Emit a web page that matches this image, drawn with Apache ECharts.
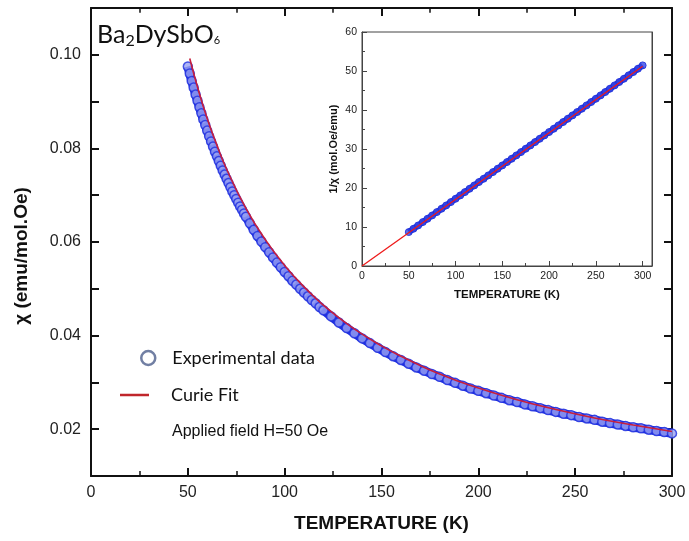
<!DOCTYPE html>
<html>
<head>
<meta charset="utf-8">
<script src="https://cdn.jsdelivr.net/npm/echarts@6/dist/echarts.min.js"></script>
<style>
html,body{margin:0;padding:0;background:#fff;}
#chart{width:689px;height:541px;}
</style>
</head>
<body>
<div id="chart"></div>
<script>
// ---- Main plot: chi vs T (experimental) ----
var expT = [50,51,52,53,54,55,56,57,58,59,60,61,62,63,64,65,66,67,68,69,70,71,72,73,74,75,76,77,78,79,80,
  82,84,86,88,90,92,94,96,98,100,102,104,106,108,110,112,114,116,118,120,
  124,128,132,136,140,144,148,152,156,160,164,168,172,176,180,184,188,192,196,200,204,208,212,216,220,
  224,228,232,236,240,244,248,252,256,260,264,268,272,276,280,284,288,292,296,300];
var expChi = [0.0975,0.0960,0.0944,0.0930,0.0915,0.0902,0.0888,0.0875,0.0862,0.0850,0.0838,0.0826,0.0815,0.0804,0.0793,0.0783,0.0773,0.0763,0.0753,0.0744,0.0735,0.0726,0.0717,0.0708,0.0700,0.0692,0.0684,0.0676,0.0669,0.0661,0.0654,
  0.0640,0.0626,0.0613,0.0601,0.0589,0.0578,0.0567,0.0556,0.0546,0.0536,0.0527,0.0517,0.0509,0.0500,0.0492,0.0484,0.0476,0.0469,0.0461,0.0454,
  0.0441,0.0428,0.0416,0.0405,0.0394,0.0384,0.0374,0.0365,0.0356,0.0348,0.0340,0.0332,0.0325,0.0318,0.0312,0.0305,0.0299,0.0293,0.0287,0.0282,0.0277,0.0272,0.0267,0.0262,0.0258,
  0.0253,0.0249,0.0245,0.0241,0.0237,0.0233,0.0230,0.0226,0.0223,0.0220,0.0216,0.0213,0.0210,0.0207,0.0204,0.0202,0.0199,0.0196,0.0194,0.0191];
// ---- Main plot: Curie fit ----
var fitT = [51,55,60,65,70,80,90,100,110,120,130,140,150,160,170,180,190,200,220,240,260,280,300];
var fitChi = [0.0992,0.0931,0.0864,0.0807,0.0756,0.0672,0.0605,0.0550,0.0504,0.0465,0.0432,0.0403,0.0378,0.0356,0.0336,0.0318,0.0302,0.0288,0.0263,0.0242,0.0224,0.0209,0.0195];
// ---- Inset: 1/chi vs T ----
var invT = [50,55,60,65,70,75,80,85,90,95,100,105,110,115,120,125,130,135,140,145,150,155,160,165,170,175,180,185,190,195,200,
  205,210,215,220,225,230,235,240,245,250,255,260,265,270,275,280,285,290,295,300];
var invChi = [8.7,9.55,10.4,11.26,12.11,12.97,13.82,14.68,15.53,16.39,17.24,18.1,18.95,19.81,20.66,21.52,22.37,23.23,24.08,24.94,25.79,26.65,27.5,28.36,29.21,30.07,30.92,31.78,32.63,33.49,34.34,
  35.2,36.05,36.91,37.76,38.62,39.47,40.33,41.18,42.04,42.89,43.75,44.6,45.46,46.31,47.17,48.02,48.88,49.73,50.59,51.44];
var invFitT = [0, 300];
var invFitVal = [0, 51.2];

var mainXTicks = [0,50,100,150,200,250,300];
var mainYTicks = [0.02,0.04,0.06,0.08,0.10];

function pairs(a,b){ return a.map(function(v,i){ return [v,b[i]]; }); }

var chart = echarts.init(document.getElementById('chart'));
var blue = '#1f30e0';
var red = '#c81f3c';
var axisFont = 'Liberation Sans, Arial, sans-serif';
var humanFont = 'Lato, "Noto Sans", sans-serif';

function frameAxis(isX, gi, pos, min, max, interval, minor, len, main){
  var a = {gridIndex: gi, type:'value', position: pos, min:min, max:max, interval:interval,
    axisLine:{show:true, onZero:false, lineStyle:{color: main?'#111':'#444', width: main?2:1}},
    axisTick:{show:true, inside:true, length:len, lineStyle:{color: main?'#111':'#444', width: main?2:1}},
    minorTick:{show:minor>0, splitNumber:minor||1, length:len*0.6, lineStyle:{color: main?'#111':'#444', width: main?1.5:1}},
    axisLabel:{show:false}, splitLine:{show:false}};
  return a;
}

var option = {
  backgroundColor:'#fff',
  animation:false,
  title:{
    text:'Ba{a|2}DySbO{b|6}',
    left: 97, top: 21,
    padding:0,
    textStyle:{fontFamily:humanFont, fontSize:25, fontWeight:'normal', color:'#111',
      rich:{a:{fontSize:16, fontFamily:humanFont, color:'#111', padding:[12,0,0,0]},
            b:{fontSize:11, fontFamily:humanFont, color:'#111', padding:[10,0,0,0]}}}
  },
  grid:[
    {left:91, right:17, top:8, bottom:65, show:false},
    {left:362, top:32, width:290, height:234, show:true, backgroundColor:'#fff', borderColor:'#444', borderWidth:1, z:5}
  ],
  legend:[
    {data:[{name:'Experimental data', icon:'circle', itemStyle:{color:'#fff', borderColor:'#4e5f8c', borderWidth:2.5}}],
     left:140, top:349, padding:0, itemWidth:14, itemHeight:14, selectedMode:false,
     textStyle:{fontFamily:humanFont, fontSize:18, color:'#111', padding:[0,0,0,12]}},
    {data:[{name:'Curie Fit', icon:'rect', itemStyle:{color:'#c0262b'}}],
     left:120, top:386, padding:0, itemWidth:29, itemHeight:2.5, selectedMode:false,
     textStyle:{fontFamily:humanFont, fontSize:18, color:'#111', padding:[0,0,0,17]}}
  ],
  graphic:[
    {type:'text', left:172, top:424, style:{text:'Applied field H=50 Oe', fontFamily:axisFont, fontSize:16, fill:'#111'}},
    {type:'text', x:22, y:256, rotation:Math.PI/2,
      style:{text:'\u03c7 (emu/mol.Oe)', fontFamily:axisFont, fontSize:19, fontWeight:'bold', fill:'#111', align:'center', verticalAlign:'middle'}}
  ],
  xAxis:[
    {gridIndex:0, type:'value', min:0, max:300, interval:50,
      name:'TEMPERATURE (K)', nameLocation:'middle', nameGap:38,
      nameTextStyle:{fontFamily:axisFont, fontWeight:'bold', fontSize:19, color:'#111'},
      axisLine:{show:true, onZero:false, lineStyle:{color:'#111', width:2}},
      axisTick:{show:true, inside:true, length:8, lineStyle:{color:'#111', width:2}},
      minorTick:{show:true, splitNumber:2, length:5, lineStyle:{color:'#111', width:1.5}},
      axisLabel:{fontFamily:axisFont, fontSize:16, color:'#222', margin:9,
        formatter:function(v){ return mainXTicks.indexOf(v)>=0 ? String(v) : ''; }},
      splitLine:{show:false}},
    frameAxis(true,0,'top',0,300,50,2,8,true),
    {gridIndex:1, type:'value', min:0, max:310, interval:50,
      name:'TEMPERATURE (K)', nameLocation:'middle', nameGap:23,
      nameTextStyle:{fontFamily:axisFont, fontWeight:'bold', fontSize:11.5, color:'#111'},
      axisLine:{show:true, onZero:false, lineStyle:{color:'#444', width:1}},
      axisTick:{show:true, inside:true, length:5, lineStyle:{color:'#444'}},
      minorTick:{show:true, splitNumber:2, length:3, lineStyle:{color:'#444'}},
      axisLabel:{fontFamily:axisFont, fontSize:10.5, color:'#222', margin:5, showMaxLabel:false,
        formatter:function(v){ return v>300 ? '' : String(v); }},
      splitLine:{show:false}, z:6},
    frameAxis(true,1,'top',0,310,50,2,5,false)
  ],
  yAxis:[
    {gridIndex:0, type:'value', position:'left', min:0.01, max:0.11, interval:0.01,
      axisLine:{show:true, onZero:false, lineStyle:{color:'#111', width:2}},
      axisTick:{show:true, inside:true, length:8, lineStyle:{color:'#111', width:2}},
      axisLabel:{fontFamily:axisFont, fontSize:16, color:'#222', margin:10,
        formatter:function(v){
          for (var i=0;i<mainYTicks.length;i++){ if (Math.abs(v-mainYTicks[i])<1e-6) return mainYTicks[i].toFixed(2); }
          return '';
        }},
      splitLine:{show:false}},
    frameAxis(false,0,'right',0.01,0.11,0.01,0,8,true),
    {gridIndex:1, type:'value', position:'left', min:0, max:60, interval:10,
      name:'1/\u03c7 (mol.Oe/emu)', nameLocation:'middle', nameGap:23, nameRotate:90,
      nameTextStyle:{fontFamily:axisFont, fontWeight:'bold', fontSize:11, color:'#111'},
      axisLine:{show:true, onZero:false, lineStyle:{color:'#444', width:1}},
      axisTick:{show:true, inside:true, length:5, lineStyle:{color:'#444'}},
      minorTick:{show:true, splitNumber:2, length:3, lineStyle:{color:'#444'}},
      axisLabel:{fontFamily:axisFont, fontSize:10.5, color:'#222', margin:5},
      splitLine:{show:false}, z:6},
    frameAxis(false,1,'right',0,60,10,2,5,false)
  ],
  series:[
    {name:'band', type:'line', xAxisIndex:0, yAxisIndex:0, data:pairs(expT,expChi), showSymbol:false,
      lineStyle:{color:blue, width:9}, silent:true, z:2},
    {name:'Experimental data', type:'scatter', xAxisIndex:0, yAxisIndex:0, data:pairs(expT,expChi),
      symbol:'circle', symbolSize:9, itemStyle:{color:'#9aa2f2', borderColor:blue, borderWidth:1.5}, z:3},
    {name:'Curie Fit', type:'line', xAxisIndex:0, yAxisIndex:0, data:pairs(fitT,fitChi), smooth:true, showSymbol:false,
      lineStyle:{color:red, width:1.6}, itemStyle:{color:'#c0262b'}, z:4},
    {name:'invband', type:'line', xAxisIndex:2, yAxisIndex:2, data:pairs(invT,invChi), showSymbol:false,
      lineStyle:{color:blue, width:6}, z:7},
    {name:'invdata', type:'scatter', xAxisIndex:2, yAxisIndex:2, data:pairs(invT,invChi),
      symbol:'circle', symbolSize:7, itemStyle:{color:'#3546e6', borderColor:'#1a2ad8', borderWidth:1}, z:8},
    {name:'invfit', type:'line', xAxisIndex:2, yAxisIndex:2, data:pairs(invFitT,invFitVal), showSymbol:false,
      lineStyle:{color:'#ee1a1a', width:1.3}, z:9}
  ]
};
chart.setOption(option);
</script>
</body>
</html>
